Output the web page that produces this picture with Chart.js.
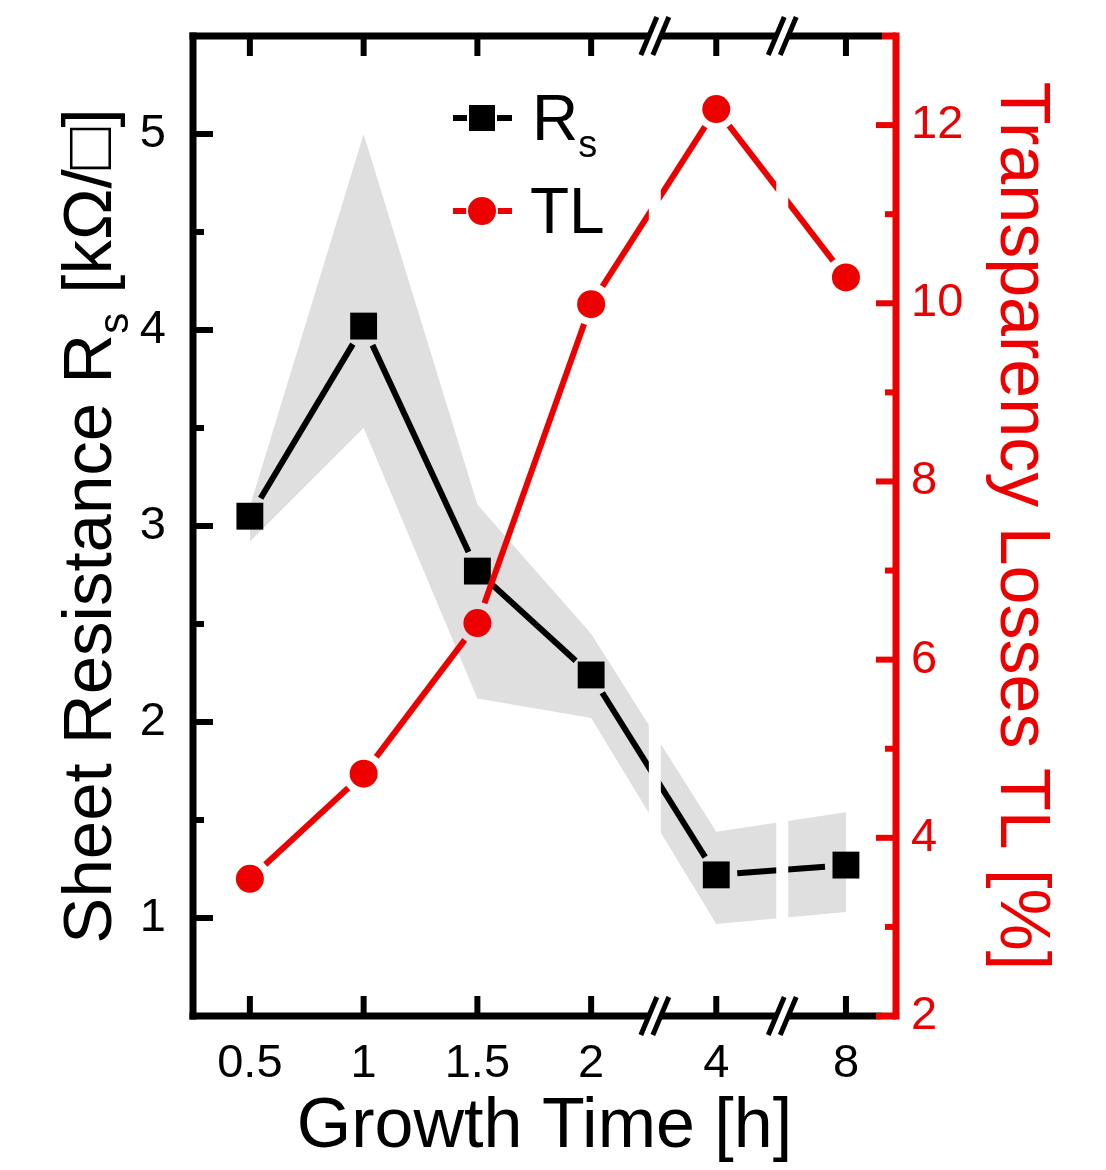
<!DOCTYPE html>
<html>
<head>
<meta charset="utf-8">
<script src="https://cdn.jsdelivr.net/npm/chart.js@4.4.1/dist/chart.umd.min.js"></script>
<style>
html, body { margin: 0; padding: 0; background: #fff; }
#wrap { width: 1106px; height: 1170px; }
</style>
</head>
<body>
<div id="wrap"><canvas id="chart" width="1106" height="1170"></canvas></div>
<script>
const growthLabels = ['0.5', '1', '1.5', '2', '4', '8'];
// where each growth time sits on the broken x axis
const xPos = [0, 1, 2, 3, 4.1, 5.24];
const xBreaks = [3.56, 4.68];
const rsValues = [3.05, 4.02, 2.77, 2.24, 1.22, 1.27];
const rsUpper = [3.1, 5.0, 3.11, 2.45, 1.44, 1.54];
const rsLower = [2.92, 3.5, 2.12, 2.02, 0.97, 1.03];
const tlValues = [3.54, 4.72, 6.41, 9.99, 12.18, 10.29];
const rsTicks = [1, 2, 3, 4, 5];
const tlTicks = [2, 4, 6, 8, 10, 12];

const RED = '#ee0000';
const GREY = '#dfdfdf';
const FONT = "'Liberation Sans', Arial, sans-serif";
const GAP = 21;

const toPoints = vals => vals.map((v, i) => ({ x: xPos[i], y: v }));

// the line stays open around each marker, as in the original plot
const gapDash = ctx => {
    const len = Math.hypot(ctx.p1.x - ctx.p0.x, ctx.p1.y - ctx.p0.y);
    return [0, GAP, Math.max(len - 2 * GAP, 0), 3000];
};

function seg(ctx, x1, y1, x2, y2, color, w) {
    ctx.strokeStyle = color;
    ctx.lineWidth = w;
    ctx.beginPath();
    ctx.moveTo(x1, y1);
    ctx.lineTo(x2, y2);
    ctx.stroke();
}

const framePlugin = {
    id: 'frame',
    afterDatasetsDraw(chart) {
        const { ctx, chartArea: a, scales: { x } } = chart;
        ctx.save();
        ctx.fillStyle = '#fff';
        xBreaks.forEach(b => {
            const px = x.getPixelForValue(b);
            ctx.fillRect(px - 6, a.top, 12, a.bottom - a.top);
        });
        ctx.restore();
    },
    afterDraw(chart) {
        const { ctx, chartArea: a, scales: { x, y, y2 } } = chart;
        ctx.save();
        ctx.lineCap = 'butt';

        // axis frame
        seg(ctx, a.left, a.top - 3.5, a.left, a.bottom + 3.5, '#000', 7);
        seg(ctx, a.left - 3.5, a.top, a.right - 14, a.top, '#000', 7);
        seg(ctx, a.left - 3.5, a.bottom, a.right - 14, a.bottom, '#000', 7);
        seg(ctx, a.right - 14, a.top, a.right, a.top, RED, 7);
        seg(ctx, a.right - 14, a.bottom, a.right, a.bottom, RED, 7);
        seg(ctx, a.right, a.top - 3.5, a.right, a.bottom + 3.5, RED, 7);

        // inward ticks
        xPos.forEach(v => {
            const px = x.getPixelForValue(v);
            seg(ctx, px, a.bottom, px, a.bottom - 20, '#000', 6);
            seg(ctx, px, a.top, px, a.top + 20, '#000', 6);
        });
        rsTicks.forEach(v => {
            const py = y.getPixelForValue(v);
            seg(ctx, a.left, py, a.left + 20, py, '#000', 6);
            if (v + 0.5 < y.max) {
                const pm = y.getPixelForValue(v + 0.5);
                seg(ctx, a.left, pm, a.left + 11, pm, '#000', 6);
            }
        });
        tlTicks.forEach(v => {
            const py = y2.getPixelForValue(v);
            seg(ctx, a.right, py, a.right - 20, py, RED, 6);
            if (v + 1 < y2.max) {
                const pm = y2.getPixelForValue(v + 1);
                seg(ctx, a.right, pm, a.right - 11, pm, RED, 6);
            }
        });

        // break marks on top and bottom axes
        xBreaks.forEach(b => {
            const px = x.getPixelForValue(b);
            [a.top, a.bottom].forEach(py => {
                ctx.fillStyle = '#fff';
                ctx.beginPath();
                ctx.moveTo(px - 8, py + 5);
                ctx.lineTo(px + 4, py + 5);
                ctx.lineTo(px + 8, py - 5);
                ctx.lineTo(px - 4, py - 5);
                ctx.closePath();
                ctx.fill();
                [-6, 6].forEach(d => seg(ctx, px + d - 8, py + 19, px + d + 8, py - 19, '#000', 5));
            });
        });

        // legend
        seg(ctx, 453, 118, 512, 118, '#000', 6);
        ctx.fillStyle = '#000';
        ctx.strokeStyle = '#fff';
        ctx.lineWidth = 2;
        ctx.beginPath();
        ctx.rect(468, 104, 28, 28);
        ctx.fill();
        ctx.stroke();
        seg(ctx, 453, 211, 512, 211, RED, 6);
        ctx.fillStyle = RED;
        ctx.strokeStyle = '#fff';
        ctx.lineWidth = 2;
        ctx.beginPath();
        ctx.arc(482, 211, 15, 0, Math.PI * 2);
        ctx.fill();
        ctx.stroke();

        ctx.fillStyle = '#000';
        ctx.textAlign = 'left';
        ctx.textBaseline = 'alphabetic';
        ctx.font = '64px ' + FONT;
        ctx.fillText('R', 532, 140);
        const rw = ctx.measureText('R').width;
        ctx.font = '38px ' + FONT;
        ctx.fillText('s', 532 + rw, 157);
        ctx.font = '64px ' + FONT;
        ctx.fillText('TL', 530, 233);

        // axis titles
        ctx.font = '70px ' + FONT;
        ctx.textAlign = 'center';
        ctx.fillText('Growth Time [h]', (a.left + a.right) / 2, 1147);

        ctx.save();
        ctx.translate(111, (a.top + a.bottom) / 2);
        ctx.rotate(-Math.PI / 2);
        ctx.textAlign = 'left';
        const t1 = 'Sheet Resistance R', t2 = 's', t3 = ' [kΩ/□]';
        ctx.font = '69px ' + FONT;
        const w1 = ctx.measureText(t1).width, w3 = ctx.measureText(t3).width;
        ctx.font = '42px ' + FONT;
        const w2 = ctx.measureText(t2).width;
        let x0 = -(w1 + w2 + w3) / 2;
        ctx.font = '69px ' + FONT;
        ctx.fillText(t1, x0, 0);
        ctx.font = '42px ' + FONT;
        ctx.fillText(t2, x0 + w1, 17);
        ctx.font = '69px ' + FONT;
        ctx.fillText(t3, x0 + w1 + w2, 0);
        ctx.restore();

        ctx.save();
        ctx.translate(1001, (a.top + a.bottom) / 2);
        ctx.rotate(Math.PI / 2);
        ctx.textAlign = 'center';
        ctx.fillStyle = RED;
        ctx.font = '70px ' + FONT;
        ctx.fillText('Transparency Losses TL [%]', 0, 0);
        ctx.restore();

        ctx.restore();
    }
};

new Chart(document.getElementById('chart'), {
    type: 'line',
    data: {
        datasets: [
            {
                label: 'upper',
                data: toPoints(rsUpper),
                yAxisID: 'y',
                fill: '+1',
                backgroundColor: GREY,
                borderColor: 'transparent',
                borderWidth: 0,
                pointRadius: 0,
                order: 3
            },
            {
                label: 'lower',
                data: toPoints(rsLower),
                yAxisID: 'y',
                fill: false,
                borderColor: 'transparent',
                borderWidth: 0,
                pointRadius: 0,
                order: 3
            },
            {
                label: 'Rs',
                data: toPoints(rsValues),
                yAxisID: 'y',
                borderColor: '#000',
                borderWidth: 6,
                pointStyle: 'rect',
                pointRadius: 19,
                pointBackgroundColor: '#000',
                pointBorderWidth: 0,
                segment: { borderDash: gapDash },
                order: 2
            },
            {
                label: 'TL',
                data: toPoints(tlValues),
                yAxisID: 'y2',
                borderColor: RED,
                borderWidth: 6,
                pointStyle: 'circle',
                pointRadius: 14,
                pointBackgroundColor: RED,
                pointBorderWidth: 0,
                segment: { borderDash: gapDash },
                order: 1
            }
        ]
    },
    options: {
        responsive: false,
        animation: false,
        events: [],
        layout: { padding: { top: 36, left: 0, right: 0, bottom: 0 } },
        plugins: {
            legend: { display: false },
            tooltip: { enabled: false }
        },
        scales: {
            x: {
                type: 'linear',
                min: -0.5,
                max: 5.68,
                grid: { display: false, drawTicks: false },
                border: { display: false },
                afterBuildTicks: s => { s.ticks = xPos.map(v => ({ value: v })); },
                afterFit: s => { s.height = 154; s.paddingLeft = 0; s.paddingRight = 0; },
                ticks: {
                    autoSkip: false,
                    maxRotation: 0,
                    padding: 20,
                    color: '#000',
                    font: { family: FONT, size: 47 },
                    callback: (v, i) => growthLabels[i]
                }
            },
            y: {
                position: 'left',
                min: 0.5,
                max: 5.5,
                grid: { display: false, drawTicks: false },
                border: { display: false },
                afterBuildTicks: s => { s.ticks = rsTicks.map(v => ({ value: v })); },
                afterFit: s => { s.width = 193; s.paddingTop = 0; s.paddingBottom = 0; },
                ticks: {
                    padding: 27,
                    color: '#000',
                    font: { family: FONT, size: 47 },
                    callback: v => String(v)
                }
            },
            y2: {
                position: 'right',
                min: 2,
                max: 13,
                grid: { display: false, drawTicks: false },
                border: { display: false },
                afterBuildTicks: s => { s.ticks = tlTicks.map(v => ({ value: v })); },
                afterFit: s => { s.width = 210; s.paddingTop = 0; s.paddingBottom = 0; },
                ticks: {
                    padding: 15,
                    color: RED,
                    font: { family: FONT, size: 47 },
                    callback: v => String(v)
                }
            }
        }
    },
    plugins: [framePlugin]
});
</script>
</body>
</html>
